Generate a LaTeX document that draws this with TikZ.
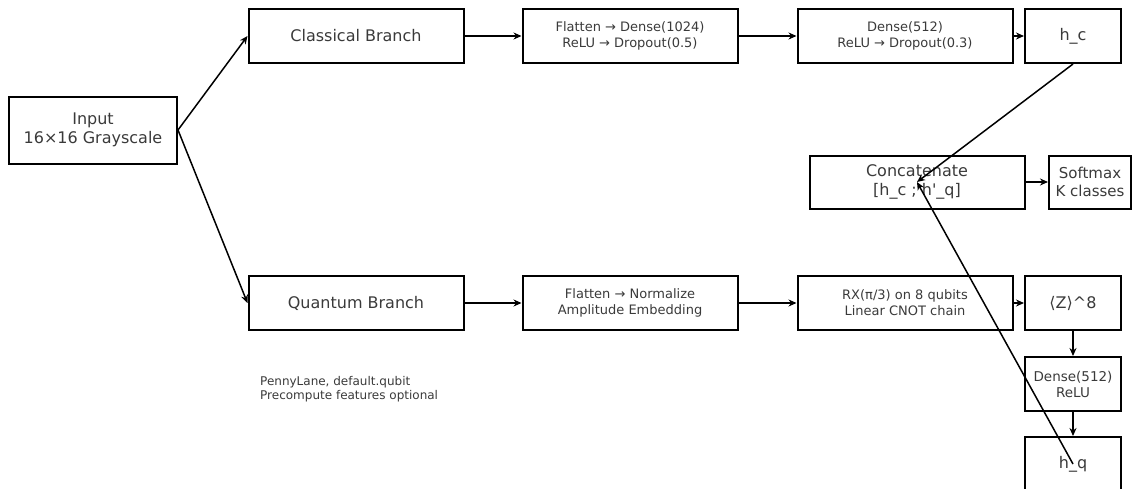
\documentclass[tikz,border=0pt]{standalone}
\usepackage{fontspec}
\setmainfont{DejaVu Sans}
\usepackage{tikz}
\usetikzlibrary{arrows.meta,positioning}
\definecolor{txtgray}{HTML}{3A3A3A}
\tikzset{
  box/.style={draw, line width=2pt, align=center, inner sep=2pt, text=txtgray,
    minimum width=215pt, minimum height=54pt, font=\fontsize{16}{19}\selectfont},
  smallbox/.style={box, font=\fontsize{13}{16}\selectfont},
  narrow/.style={box, minimum width=96pt},
  note/.style={align=left, inner sep=0pt, text=txtgray, font=\fontsize{12}{13.5}\selectfont},
  arr/.style={line width=1.5pt, -{Stealth[length=8pt,width=7pt]}}
}
\begin{document}
\begin{tikzpicture}[x=1pt,y=-1pt]
\useasboundingbox (0,0) rectangle (1138,488);
\node[box, minimum width=168pt, minimum height=67pt] (inp) at (93,130) {Input\\16\texttimes16 Grayscale};
% classical path
\node[box] (cls) at (356,36) {Classical Branch};
\node[smallbox] (cfd) at (630,36) {Flatten → Dense(1024)\\ReLU → Dropout(0.5)};
\node[smallbox] (cd2) at (905,36) {Dense(512)\\ReLU → Dropout(0.3)};
\node[narrow] (hc) at (1073,36) {h\_c};
% quantum path
\node[box] (qb) at (356,303) {Quantum Branch};
\node[smallbox] (qfn) at (630,303) {Flatten → Normalize\\Amplitude Embedding};
\node[smallbox] (rx) at (905,303) {RX(π/3) on 8 qubits\\Linear CNOT chain};
\node[narrow] (zz) at (1073,303) {⟨Z⟩\^{}8};
\node[narrow, font=\fontsize{13.5}{16}\selectfont] (dq) at (1073,384) {Dense(512)\\ReLU};
\node[narrow] (hq) at (1073,464) {h\_q};
% fusion
\node[box, minimum height=53pt] (cat) at (917,182) {Concatenate\\{}[h\_c ; h\textquotesingle\_q]};
\node[box, minimum width=82pt, minimum height=53pt, font=\fontsize{15}{18}\selectfont] (smx) at (1090,182) {Softmax\\K classes};
\node[note, anchor=west] (nt) at (260,389) {PennyLane, default.qubit\\Precompute features optional};
\draw[arr] (inp.east) -- (cls.west);
\draw[arr] (inp.east) -- (qb.west);
\draw[arr] (cls) -- (cfd);
\draw[arr] (cfd) -- (cd2);
\draw[arr] (cd2) -- (hc);
\draw[arr] (qb) -- (qfn);
\draw[arr] (qfn) -- (rx);
\draw[arr] (rx) -- (zz);
\draw[arr] (zz) -- (dq);
\draw[arr] (dq) -- (hq);
\draw[arr] (cat) -- (smx);
\draw[arr] (hc.south) -- (cat.center);
\draw[arr] (hq.center) -- (cat.center);
\end{tikzpicture}
\end{document}
